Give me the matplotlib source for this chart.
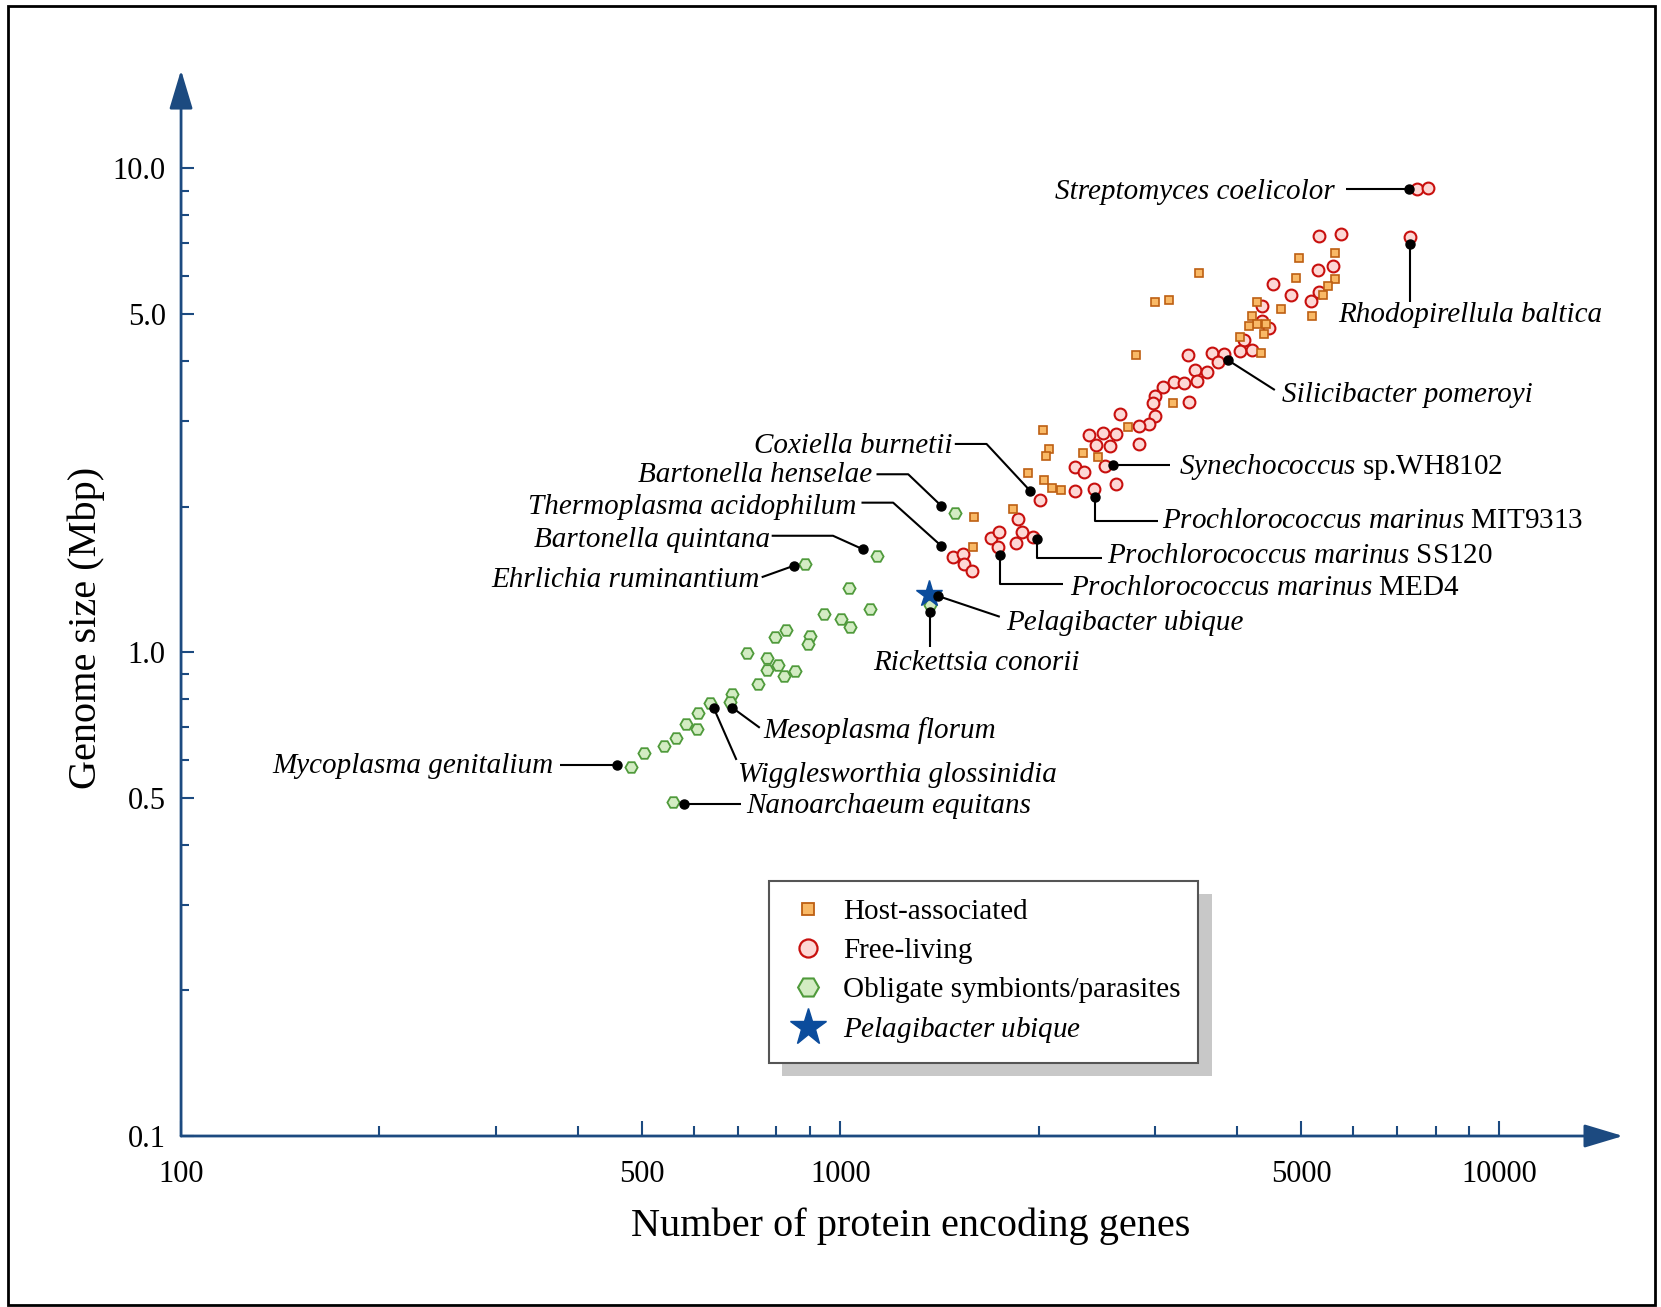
import matplotlib

matplotlib.use("Agg")
import matplotlib.pyplot as plt
from matplotlib.lines import Line2D
from matplotlib.patches import Rectangle
from matplotlib.ticker import FixedLocator, FixedFormatter, NullFormatter

plt.rcParams["font.family"] = ["Liberation Serif", "DejaVu Serif"]
plt.rcParams["mathtext.fontset"] = "custom"
plt.rcParams["mathtext.rm"] = "Liberation Serif"
plt.rcParams["mathtext.it"] = "Liberation Serif:italic"

AXIS_COLOR = "#1c4a80"
SQ_FACE, SQ_EDGE = "#f9b966", "#bd5f12"
CI_FACE, CI_EDGE = "#fdd8d5", "#c8100e"
HX_FACE, HX_EDGE = "#d3ecc3", "#4f9a3b"
STAR_COLOR = "#0b4c9c"

# --- data ---
host_genes = [3504, 2999, 3148, 2805, 3199, 2733, 2027, 2074, 2050, 1925,
              2040, 2094, 2159, 2335, 2461, 1829, 1594, 4963, 5627, 4911,
              5627, 5486, 5402, 4656, 5199, 4290, 4207, 4290, 4417, 4172,
              4396, 4039, 4341, 1590]
host_size = [6.08, 5.30, 5.34, 4.12, 3.28, 2.92, 2.88, 2.63, 2.55, 2.35,
             2.27, 2.19, 2.16, 2.58, 2.53, 1.98, 1.90, 6.54, 6.68, 5.94,
             5.92, 5.72, 5.47, 5.13, 4.95, 5.30, 4.95, 4.76, 4.78, 4.72,
             4.54, 4.48, 4.16, 1.65]

free_genes = [5329, 5741, 5309, 5582, 4538, 4823, 5170, 5323, 4361, 4474,
              4096, 4039, 4212, 4357, 3365, 3659, 3819, 3744, 3452, 3596,
              3090, 3211, 3325, 3472, 3383, 3005, 2984, 3005, 2942, 2841,
              2656, 2841, 2384, 2500, 2617, 2440, 2568, 2269, 2347, 2522,
              2617, 2425, 2269, 2008, 1862, 1884, 1962, 1847, 1696, 1742,
              1736, 1483, 1536, 1539, 1587, 7488, 7781, 7314]
free_size = [7.25, 7.32, 6.17, 6.29, 5.76, 5.48, 5.32, 5.56, 5.19, 4.67,
             4.42, 4.20, 4.22, 4.85, 4.12, 4.16, 4.14, 3.98, 3.84, 3.79,
             3.53, 3.62, 3.60, 3.64, 3.29, 3.39, 3.27, 3.08, 2.96, 2.94,
             3.11, 2.69, 2.81, 2.84, 2.82, 2.68, 2.67, 2.42, 2.36, 2.43,
             2.23, 2.18, 2.15, 2.06, 1.89, 1.77, 1.73, 1.68, 1.72, 1.77,
             1.65, 1.57, 1.60, 1.52, 1.475, 9.07, 9.10, 7.21]

obligate_genes = [1137, 883, 1031, 1111, 945, 1002, 1034, 828, 797, 899,
                  892, 723, 774, 805, 774, 853, 821, 749, 685, 680,
                  634, 609, 583, 606, 563, 540, 503, 481, 557, 1492, 1367]
obligate_size = [1.584, 1.522, 1.356, 1.229, 1.198, 1.171, 1.129, 1.112, 1.075, 1.082,
                 1.040, 0.995, 0.972, 0.941, 0.919, 0.916, 0.894, 0.860, 0.820, 0.788,
                 0.784, 0.748, 0.710, 0.694, 0.664, 0.641, 0.620, 0.580, 0.491, 1.937, 1.252]

pelagibacter_genes = [1364]
pelagibacter_size = [1.318]

species = [
    r"Streptomyces coelicolor",
    r"Rhodopirellula baltica",
    r"Silicibacter pomeroyi",
    r"$\mathit{Synechococcus}$ sp.WH8102",
    r"$\mathit{Prochlorococcus\ marinus}$ MIT9313",
    r"$\mathit{Prochlorococcus\ marinus}$ SS120",
    r"$\mathit{Prochlorococcus\ marinus}$ MED4",
    r"Pelagibacter ubique",
    r"Rickettsia conorii",
    r"Coxiella burnetii",
    r"Bartonella henselae",
    r"Thermoplasma acidophilum",
    r"Bartonella quintana",
    r"Ehrlichia ruminantium",
    r"Mesoplasma florum",
    r"Wigglesworthia glossinidia",
    r"Mycoplasma genitalium",
    r"Nanoarchaeum equitans",
]
species_genes = [7289, 7314, 3881, 2594, 2433, 1987, 1746, 1407, 1367, 1940,
                 1424, 1424, 1083, 851, 686, 643, 459, 579]
species_size = [9.07, 6.98, 4.01, 2.44, 2.09, 1.714, 1.589, 1.307, 1.213, 2.158,
                2.006, 1.658, 1.632, 1.510, 0.768, 0.766, 0.585, 0.486]

# --- label layout: connector bends, text anchor, alignment ---
label_layout = [
    ([(5848, 9.07)], (5627, 8.96), "right"),
    ([(7314, 5.305)], (9020, 4.97), "center"),
    ([(4563, 3.484)], (4672, 3.40), "left"),
    ([(3163, 2.44)], (3264, 2.415), "left"),
    ([(2433, 1.867), (3033, 1.867)], (3075, 1.867), "left"),
    ([(1987, 1.566), (2494, 1.566)], (2538, 1.581), "left"),
    ([(1746, 1.382), (2178, 1.382)], (2230, 1.359), "left"),
    ([(1746, 1.184)], (1783, 1.151), "left"),
    ([(1367, 1.027)], (1611, 0.950), "center"),
    ([(1667, 2.695), (1492, 2.695)], (1482, 2.672), "right"),
    ([(1268, 2.333), (1135, 2.333)], (1116, 2.321), "right"),
    ([(1203, 2.038), (1077, 2.038)], (1059, 1.994), "right"),
    ([(975, 1.741), (787, 1.741)], (782, 1.706), "right"),
    ([(760, 1.429)], (754, 1.408), "right"),
    ([(755, 0.698)], (765, 0.688), "left"),
    ([(696, 0.599)], (699, 0.557), "left"),
    ([(376, 0.585)], (367.5, 0.583), "right"),
    ([(708, 0.486)], (721, 0.481), "left"),
]

fig = plt.figure(figsize=(16.61, 13.07), dpi=100)
ax = fig.add_axes([0.1090, 0.13083, 0.86815, 0.81561])
ax.set_xscale("log")
ax.set_yscale("log")
ax.set_xlim(100, 15400)
ax.set_ylim(0.1, 15.98)

for s in ax.spines.values():
    s.set_visible(False)
arrow = dict(arrowstyle="-|>,head_length=2.4,head_width=0.72", color=AXIS_COLOR,
             lw=2, shrinkA=0, shrinkB=0)
ax.annotate("", xy=(1, 0), xytext=(0, 0), xycoords="axes fraction", arrowprops=arrow)
ax.annotate("", xy=(0, 1), xytext=(0, 0), xycoords="axes fraction", arrowprops=arrow)

ax.xaxis.set_major_locator(FixedLocator([100, 500, 1000, 5000, 10000]))
ax.xaxis.set_major_formatter(FixedFormatter(["100", "500", "1000", "5000", "10000"]))
ax.xaxis.set_minor_locator(FixedLocator([200, 300, 400, 600, 700, 800, 900, 2000, 3000,
                                         4000, 6000, 7000, 8000, 9000]))
ax.xaxis.set_minor_formatter(NullFormatter())
ax.yaxis.set_major_locator(FixedLocator([0.1, 0.5, 1, 5, 10]))
ax.yaxis.set_major_formatter(FixedFormatter(["0.1", "0.5", "1.0", "5.0", "10.0"]))
ax.yaxis.set_minor_locator(FixedLocator([0.2, 0.3, 0.4, 0.6, 0.7, 0.8, 0.9, 2, 3, 4,
                                         6, 7, 8, 9]))
ax.yaxis.set_minor_formatter(NullFormatter())
ax.tick_params(axis="x", which="major", direction="in", length=11, width=1.5,
               color=AXIS_COLOR, labelsize=22, pad=17.5)
ax.tick_params(axis="x", which="minor", direction="in", length=7, width=1.5,
               color=AXIS_COLOR)
ax.tick_params(axis="y", which="major", direction="in", length=9, width=1.5,
               color=AXIS_COLOR, labelsize=22, pad=11)
ax.tick_params(axis="y", which="minor", direction="in", length=5.5, width=1.5,
               color=AXIS_COLOR)

ax.set_xlabel("Number of protein encoding genes", fontsize=29)
ax.xaxis.set_label_coords(0.506, -0.0934)
ax.xaxis.label.set_verticalalignment("baseline")
ax.set_ylabel("Genome size (Mbp)", fontsize=29)
ax.yaxis.set_label_coords(-0.0655, 0.4767)
ax.yaxis.label.set_verticalalignment("center")

ax.plot(free_genes, free_size, ls="none", marker="o", ms=8.5, mfc=CI_FACE, mec=CI_EDGE,
        mew=1.5, zorder=2, clip_on=False)
ax.plot(host_genes, host_size, ls="none", marker="s", ms=6, mfc=SQ_FACE, mec=SQ_EDGE,
        mew=1.2, zorder=3, clip_on=False)
ax.plot(obligate_genes, obligate_size, ls="none", marker="H", ms=8.8, mfc=HX_FACE,
        mec=HX_EDGE, mew=1.3, zorder=3, clip_on=False)
ax.plot(pelagibacter_genes, pelagibacter_size, ls="none", marker="*", ms=20,
        color=STAR_COLOR, zorder=4)

for i, name in enumerate(species):
    bends, (tx, ty), ha = label_layout[i]
    xs = [species_genes[i]] + [b[0] for b in bends]
    ys = [species_size[i]] + [b[1] for b in bends]
    ax.plot(xs, ys, color="black", lw=1.5, zorder=5, solid_capstyle="butt")
    style = "normal" if name.startswith("$") else "italic"
    ax.text(tx, ty, name, fontsize=21, style=style, ha=ha, va="center", zorder=7)
ax.plot(species_genes, species_size, ls="none", marker="o", ms=6.5, color="black",
        zorder=6)

handles = [
    Line2D([], [], ls="none", marker="s", ms=8, mfc=SQ_FACE, mec=SQ_EDGE, mew=1.3),
    Line2D([], [], ls="none", marker="o", ms=13, mfc=CI_FACE, mec=CI_EDGE, mew=1.6),
    Line2D([], [], ls="none", marker="H", ms=15, mfc=HX_FACE, mec=HX_EDGE, mew=1.5),
    Line2D([], [], ls="none", marker="*", ms=28, color=STAR_COLOR),
]
legend_labels = ["Host-associated", "Free-living", "Obligate symbionts/parasites",
                 r"$\mathit{Pelagibacter\ ubique}$"]
leg = ax.legend(handles, legend_labels, loc="upper left", bbox_to_anchor=(0.4078, 0.2392),
                borderaxespad=0, fontsize=21, fancybox=False, borderpad=0.6,
                handlelength=1.45, handletextpad=0.5, labelspacing=0.43,
                shadow=dict(ox=9.5, oy=-9.5, facecolor="#c8c8c8", edgecolor="none", alpha=1))
leg.get_frame().set_edgecolor("#555555")
leg.get_frame().set_linewidth(1.5)

fig.patches.append(Rectangle((8.0 / 1661, 2 / 1307), (1655 - 8.0) / 1661, (1301 - 2) / 1307,
                             transform=fig.transFigure, fill=False, ec="black", lw=2))

fig.savefig("out.png", dpi=100)
